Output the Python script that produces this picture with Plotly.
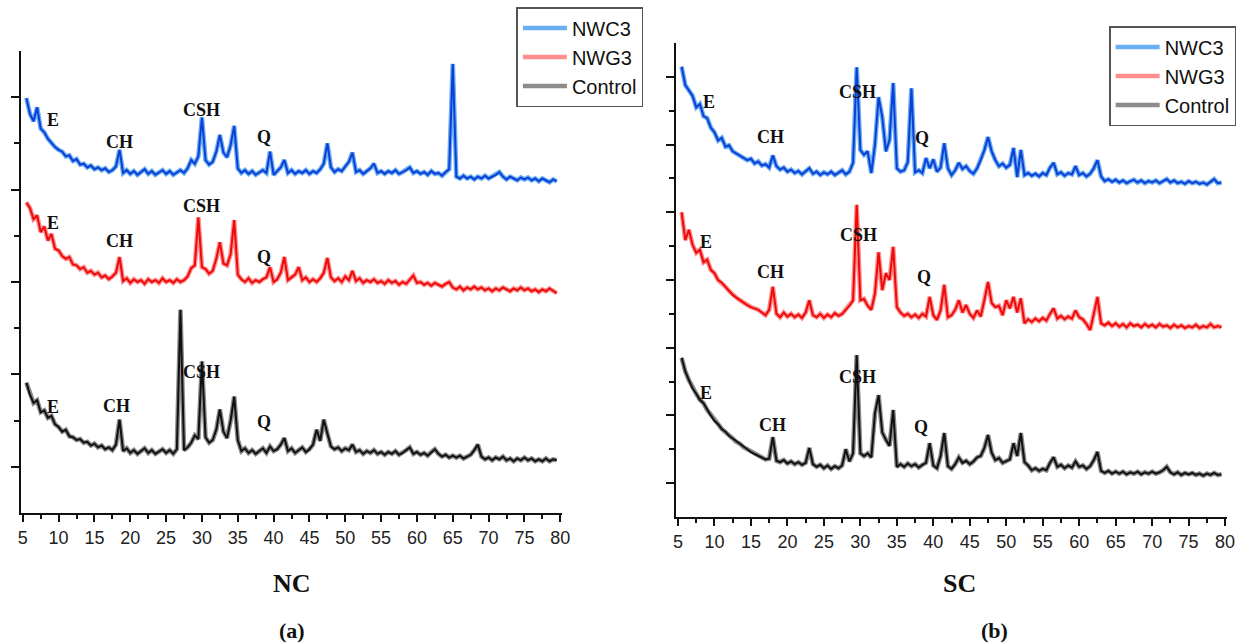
import plotly.graph_objects as go

# 2-theta scan positions (degrees)
TWO_THETA = [
    5.5, 6.0, 6.5, 7.0, 7.5, 8.0, 8.5, 9.0, 9.5, 10.0,
    10.5, 11.0, 11.5, 12.0, 12.5, 13.0, 13.5, 14.0, 14.5, 15.0,
    15.5, 16.0, 16.5, 17.0, 17.5, 18.0, 18.5, 19.0, 19.5, 20.0,
    20.5, 21.0, 21.5, 22.0, 22.5, 23.0, 23.5, 24.0, 24.5, 25.0,
    25.5, 26.0, 26.5, 27.0, 27.5, 28.0, 28.5, 29.0, 29.5, 30.0,
    30.5, 31.0, 31.5, 32.0, 32.5, 33.0, 33.5, 34.0, 34.5, 35.0,
    35.5, 36.0, 36.5, 37.0, 37.5, 38.0, 38.5, 39.0, 39.5, 40.0,
    40.5, 41.0, 41.5, 42.0, 42.5, 43.0, 43.5, 44.0, 44.5, 45.0,
    45.5, 46.0, 46.5, 47.0, 47.5, 48.0, 48.5, 49.0, 49.5, 50.0,
    50.5, 51.0, 51.5, 52.0, 52.5, 53.0, 53.5, 54.0, 54.5, 55.0,
    55.5, 56.0, 56.5, 57.0, 57.5, 58.0, 58.5, 59.0, 59.5, 60.0,
    60.5, 61.0, 61.5, 62.0, 62.5, 63.0, 63.5, 64.0, 64.5, 65.0,
    65.5, 66.0, 66.5, 67.0, 67.5, 68.0, 68.5, 69.0, 69.5, 70.0,
    70.5, 71.0, 71.5, 72.0, 72.5, 73.0, 73.5, 74.0, 74.5, 75.0,
    75.5, 76.0, 76.5, 77.0, 77.5, 78.0, 78.5, 79.0, 79.5,
]

# ---------------- Panel (a) NC : intensities (a.u., stacked) ----------------
NC_NWC3 = [
    499, 482, 474, 489, 466, 462, 455, 450, 446, 443,
    441, 436, 437, 431, 433, 427, 428, 424, 426, 422,
    424, 421, 423, 419, 421, 425, 443, 418, 421, 417,
    420, 416, 419, 422, 417, 420, 416, 419, 421, 417,
    420, 416, 419, 421, 418, 423, 432, 428, 436, 478,
    432, 427, 430, 441, 459, 440, 435, 448, 469, 423,
    418, 421, 417, 420, 416, 419, 421, 418, 441, 416,
    420, 424, 432, 418, 421, 417, 420, 418, 421, 417,
    420, 418, 422, 428, 450, 424, 419, 422, 420, 425,
    430, 440, 419, 421, 417, 420, 423, 428, 418, 420,
    417, 420, 418, 421, 417, 419, 421, 424, 418, 420,
    417, 419, 416, 420, 417, 418, 415, 419, 422, 536,
    414, 412, 415, 412, 414, 411, 414, 412, 415, 412,
    414, 416, 419, 414, 411, 414, 412, 410, 413, 411,
    413, 410, 412, 409, 412, 410, 408, 411, 409,
]
NC_NWG3 = [
    386, 380, 368, 372, 354, 360, 345, 352, 336, 334,
    328, 325, 327, 319, 318, 314, 316, 310, 312, 308,
    310, 305, 307, 303, 306, 310, 327, 301, 304, 299,
    303, 300, 302, 298, 303, 300, 302, 299, 304, 300,
    302, 299, 303, 300, 302, 306, 315, 318, 370, 316,
    314, 309, 312, 325, 343, 320, 318, 330, 367, 308,
    303, 300, 304, 299, 302, 300, 303, 305, 316, 300,
    303, 310, 327, 302, 305, 308, 316, 302, 305, 300,
    303, 300, 304, 310, 326, 305, 301, 304, 300, 306,
    302, 312, 301, 304, 299, 302, 300, 303, 299, 301,
    298, 302, 299, 301, 297, 300, 298, 303, 307, 299,
    300, 297, 299, 296, 299, 297, 295, 298, 300, 294,
    292, 295, 291, 294, 292, 295, 292, 294, 291, 293,
    290, 293, 291, 294, 292, 290, 293, 291, 294, 291,
    293, 290, 292, 289, 292, 290, 293, 290, 288,
]
NC_CONTROL = [
    191, 178, 169, 172, 159, 161, 153, 155, 146, 143,
    138, 140, 133, 132, 129, 130, 126, 127, 123, 125,
    121, 123, 119, 121, 118, 124, 151, 117, 120, 115,
    118, 114, 117, 120, 115, 118, 114, 117, 119, 115,
    118, 114, 119, 270, 118, 121, 126, 134, 130, 214,
    132, 126, 129, 140, 162, 138, 131, 150, 176, 129,
    117, 120, 115, 118, 114, 117, 120, 115, 122, 117,
    119, 124, 131, 117, 120, 115, 118, 121, 116, 119,
    124, 140, 128, 151, 136, 122, 119, 121, 117, 120,
    118, 124, 116, 118, 114, 117, 115, 118, 114, 116,
    113, 116, 114, 117, 113, 115, 118, 121, 114, 116,
    113, 115, 112, 116, 119, 114, 111, 113, 110, 112,
    110, 112, 109, 111, 113, 118, 124, 111, 108, 110,
    107, 110, 108, 111, 107, 109, 106, 109, 107, 110,
    107, 109, 106, 108, 106, 109, 106, 108, 107,
]

# ---------------- Panel (b) SC : intensities (a.u., stacked) ----------------
SC_NWC3 = [
    715, 688, 680, 672, 655, 660, 642, 639, 625, 618,
    606, 610, 597, 599, 590, 587, 584, 581, 577, 579,
    572, 575, 569, 571, 566, 584, 568, 563, 566, 560,
    563, 558, 561, 556, 560, 565, 557, 560, 555, 559,
    556, 560, 555, 558, 562, 556, 560, 573, 714, 592,
    585, 590, 558, 600, 670, 641, 590, 607, 691, 565,
    560, 562, 574, 683, 559, 562, 558, 580, 565, 578,
    560, 566, 602, 565, 555, 562, 573, 564, 568, 561,
    557, 565, 577, 592, 611, 590, 577, 568, 572, 566,
    570, 595, 552, 592, 555, 558, 554, 557, 553, 558,
    555, 566, 573, 556, 559, 554, 558, 556, 568, 555,
    558, 553, 557, 565, 577, 553, 546, 549, 545, 548,
    544, 547, 543, 546, 548, 544, 547, 543, 546, 544,
    547, 543, 546, 549, 544, 547, 543, 545, 542, 546,
    543, 545, 542, 544, 541, 545, 549, 543, 544,
]
SC_NWG3 = [
    500, 459, 474, 452, 440, 445, 426, 430, 415, 410,
    400, 396, 390, 384, 378, 374, 370, 366, 363, 360,
    358, 356, 352, 348, 356, 390, 350, 345, 352, 346,
    350, 345, 349, 344, 352, 370, 348, 345, 350, 344,
    349, 345, 351, 347, 350, 356, 362, 370, 511, 370,
    372, 362, 356, 380, 441, 385, 410, 400, 449, 360,
    352, 347, 350, 345, 349, 344, 350, 346, 375, 348,
    341, 355, 393, 345, 348, 356, 370, 352, 363, 350,
    344, 355, 346, 370, 397, 366, 360, 362, 348, 370,
    358, 375, 352, 373, 336, 342, 338, 343, 339, 344,
    340, 350, 358, 343, 347, 342, 346, 343, 355, 345,
    342, 335, 326, 350, 375, 336, 333, 337, 332, 336,
    331, 335, 330, 336, 332, 334, 330, 335, 331, 334,
    330, 335, 331, 333, 329, 334, 330, 333, 329, 332,
    330, 334, 329, 332, 330, 335, 330, 332, 330,
]
SC_CONTROL = [
    285, 265, 252, 240, 232, 223, 218, 208, 200, 192,
    187, 180, 176, 170, 166, 161, 158, 153, 150, 146,
    143, 140, 138, 135, 136, 168, 133, 131, 134, 129,
    132, 128, 131, 127, 130, 152, 128, 124, 127, 122,
    126, 121, 125, 122, 126, 150, 132, 144, 289, 144,
    140, 144, 138, 203, 230, 175, 164, 155, 208, 124,
    128, 124, 129, 125, 128, 123, 127, 130, 159, 126,
    122, 140, 174, 125, 121, 128, 138, 130, 133, 128,
    132, 138, 140, 152, 171, 145, 134, 137, 130, 133,
    135, 159, 140, 174, 131, 126, 119, 122, 118, 121,
    119, 130, 138, 124, 127, 122, 126, 123, 132, 124,
    126, 121, 125, 134, 146, 118, 115, 118, 114, 117,
    114, 117, 113, 116, 114, 117, 113, 116, 114, 117,
    114, 116, 119, 124, 116, 113, 116, 112, 115, 113,
    115, 112, 114, 111, 114, 112, 115, 112, 113,
]

SERIES_NAMES = ["NWC3", "NWG3", "Control"]
X_TICKS = [5, 10, 15, 20, 25, 30, 35, 40, 45, 50, 55, 60, 65, 70, 75, 80]

# phase labels: (text, 2theta, intensity)
NC_LABELS = [
    ("E", 9.15, 475), ("CH", 18.55, 451), ("CSH", 29.9, 486), ("Q", 38.6, 457),
    ("E", 9.15, 364), ("CH", 18.55, 344), ("CSH", 29.9, 382), ("Q", 38.6, 327),
    ("E", 9.15, 165), ("CH", 18.1, 166), ("CSH", 29.9, 203), ("Q", 38.6, 148),
]
SC_LABELS = [
    ("E", 9.2, 663), ("CH", 17.7, 611), ("CSH", 29.6, 678), ("Q", 38.4, 610),
    ("E", 8.9, 456), ("CH", 17.7, 412), ("CSH", 29.7, 466), ("Q", 38.7, 404),
    ("E", 8.9, 233), ("CH", 17.9, 186), ("CSH", 29.6, 257), ("Q", 38.3, 183),
]

CORE = ["#0b3fd6", "#ec0a0a", "#111111"]
HALO = ["#6aaef2", "#ff8f8f", "#8c8c8c"]

fig = go.Figure()

panels = [
    ("x", "y", "legend", [NC_NWC3, NC_NWG3, NC_CONTROL]),
    ("x2", "y2", "legend2", [SC_NWC3, SC_NWG3, SC_CONTROL]),
]
for xa, ya, lg, data in panels:
    for i, ys in enumerate(data):
        fig.add_trace(go.Scatter(
            x=TWO_THETA, y=ys, mode="lines", name=SERIES_NAMES[i],
            line=dict(color=HALO[i], width=4.6), xaxis=xa, yaxis=ya,
            legend=lg, showlegend=True, hoverinfo="skip"))
    for i, ys in enumerate(data):
        fig.add_trace(go.Scatter(
            x=TWO_THETA, y=ys, mode="lines", name=SERIES_NAMES[i],
            line=dict(color=CORE[i], width=2.0), xaxis=xa, yaxis=ya,
            showlegend=False))

annotations = []
for labels, xr, yr in [(NC_LABELS, "x", "y"), (SC_LABELS, "x2", "y2")]:
    for text, xv, yv in labels:
        annotations.append(dict(
            text="<b>%s</b>" % text, x=xv, y=yv, xref=xr, yref=yr,
            showarrow=False, xanchor="center", yanchor="middle",
            font=dict(family="Liberation Serif, Times New Roman, serif",
                      size=18, color="#111")))

for text, xp, yp, size in [("NC", 292, 583, 26), ("SC", 965, 583, 26),
                           ("(a)", 292, 630, 22), ("(b)", 1000, 630, 22)]:
    annotations.append(dict(
        text="<b>%s</b>" % text, x=xp / 1245, y=1 - yp / 643,
        xref="paper", yref="paper", showarrow=False,
        xanchor="center", yanchor="middle",
        font=dict(family="Liberation Serif, Times New Roman, serif",
                  size=size, color="#111")))

xaxis_common = dict(
    range=[4.7, 80.3], tickvals=X_TICKS, ticktext=[str(v) for v in X_TICKS],
    ticks="outside", ticklen=7, tickwidth=1.5, tickcolor="#111",
    showline=True, linecolor="#111", linewidth=2, showgrid=False,
    zeroline=False,
    tickfont=dict(family="Liberation Sans Narrow, Liberation Sans, Arial",
                  size=18, color="#222"),
    minor=dict(tickvals=[7.5 + 5 * k for k in range(15)], ticks="outside",
               ticklen=4, tickwidth=1.5, tickcolor="#111"),
)
yaxis_common = dict(
    showticklabels=False, ticks="outside", ticklen=8, tickwidth=1.5,
    tickcolor="#111", showline=True, linecolor="#111", linewidth=2,
    showgrid=False, zeroline=False,
)

legend_common = dict(
    bgcolor="white", bordercolor="#555", borderwidth=1.5,
    font=dict(family="Liberation Sans, Arial", size=20, color="#111"),
    xanchor="left", yanchor="top", itemwidth=44, traceorder="normal",
    tracegroupgap=0,
)

fig.update_layout(
    width=1245, height=643, margin=dict(l=0, r=0, t=0, b=0),
    paper_bgcolor="white", plot_bgcolor="white",
    xaxis=dict(domain=[17.8 / 1245, 564.4 / 1245], anchor="y", **xaxis_common),
    yaxis=dict(domain=[0.2022, 0.9207], range=[50, 550], anchor="x",
               tickvals=[100, 200, 300, 400, 500],
               minor=dict(tickvals=[150, 250, 350, 450], ticks="outside",
                          ticklen=5, tickwidth=1.5, tickcolor="#111"),
               **yaxis_common),
    xaxis2=dict(domain=[678.8 / 1245, 1235.2 / 1245], anchor="y2", **xaxis_common),
    yaxis2=dict(domain=[0.196, 0.9331], range=[50, 750], anchor="x2",
                tickvals=[100, 200, 300, 400, 500, 600, 700],
                minor=dict(tickvals=[150, 250, 350, 450, 550, 650], ticks="outside",
                           ticklen=5, tickwidth=1.5, tickcolor="#111"),
                **yaxis_common),
    legend=dict(x=518 / 1245, y=1 - 7 / 643, **legend_common),
    legend2=dict(x=1116 / 1245, y=1 - 26 / 643, **legend_common),
    annotations=annotations,
    showlegend=True,
)

fig.write_html("out.html")
